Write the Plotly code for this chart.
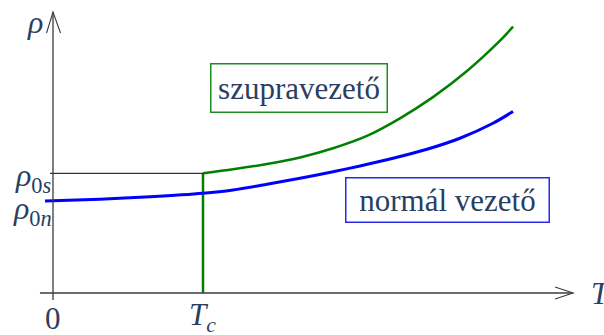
import plotly.graph_objects as go

# Temperature (in units of T_c) and resistivity (in units of rho_0n)
T_NORMAL = [-0.053, 0.313, 0.647, 1.000, 1.200, 1.427, 1.647, 1.867, 2.047,
            2.267, 2.493, 2.713, 2.933, 3.067]
RHO_NORMAL = [1.000, 1.020, 1.046, 1.084, 1.120, 1.182, 1.247, 1.318, 1.381,
              1.464, 1.562, 1.682, 1.845, 1.973]

T_SUPER = [1.000, 1.200, 1.427, 1.647, 1.867, 2.093, 2.313, 2.533, 2.760,
           2.980, 3.067]
RHO_SUPER = [1.301, 1.345, 1.402, 1.473, 1.573, 1.707, 1.898, 2.129, 2.413,
             2.743, 2.895]

TC = 1.0
RHO_0N = RHO_NORMAL[0]
RHO_0S = RHO_SUPER[0]

# axis extents
T_MIN, T_MAX = -0.087, 3.467
RHO_MIN, RHO_MAX = -0.076, 3.054

X_RANGE = [-0.3533, 3.6733]
Y_RANGE = [-0.4565, 3.1848]

AXIS_COLOR = "#3c3c3c"
GREEN = "#008000"
BLUE = "#0000ff"
SERIF = "Liberation Serif"

fig = go.Figure()

# superconducting branch: vertical drop at T_c
fig.add_trace(go.Scatter(x=[TC, TC], y=[0, RHO_0S], mode="lines",
                         line=dict(color=GREEN, width=2.5), hoverinfo="skip"))
fig.add_trace(go.Scatter(x=T_SUPER, y=RHO_SUPER, mode="lines",
                         line=dict(color=GREEN, width=2.5, shape="spline",
                                   smoothing=0.8),
                         hoverinfo="skip"))
fig.add_trace(go.Scatter(x=T_NORMAL, y=RHO_NORMAL, mode="lines",
                         line=dict(color=BLUE, width=3, shape="spline",
                                   smoothing=0.9),
                         hoverinfo="skip"))

# rho_0s guide
fig.add_shape(type="line", x0=-0.02, x1=TC, y0=RHO_0S, y1=RHO_0S,
              line=dict(color="black", width=1))
# axes
fig.add_shape(type="line", x0=T_MIN, x1=T_MAX, y0=0, y1=0,
              line=dict(color=AXIS_COLOR, width=1.3))
fig.add_shape(type="line", x0=0, x1=0, y0=RHO_MIN, y1=RHO_MAX,
              line=dict(color=AXIS_COLOR, width=1.3))
# open arrowheads
fig.add_shape(type="path",
              path=f"M {T_MAX-0.12},{0.065} L {T_MAX},0 L {T_MAX-0.12},{-0.065}",
              line=dict(color=AXIS_COLOR, width=1.1))
fig.add_shape(type="path",
              path=f"M {-0.043},{RHO_MAX-0.228} L 0,{RHO_MAX} L {0.05},{RHO_MAX-0.228}",
              line=dict(color=AXIS_COLOR, width=1.1))


def label(x, y, text, size=31, **kw):
    fig.add_annotation(x=x, y=y, text=text, showarrow=False,
                       font=dict(family=SERIF, size=size), **kw)


label(0, RHO_MAX, "<i>ρ</i>", 32, xanchor="right", yanchor="middle",
      xshift=-8, yshift=-10)
label(T_MAX, 0, "<i>T</i>", 31, xanchor="left", yanchor="middle",
      xshift=16)
label(0, 0, "0", 31, xanchor="center", yanchor="middle", yshift=-25)
label(TC, 0, "<i>T</i><sub><i>c</i></sub>", 31, xanchor="center",
      yanchor="middle", yshift=-24, xshift=-1)
label(0, RHO_0S, "<i>ρ</i><sub>0<i>s</i></sub>", 32, xanchor="right",
      yanchor="middle", xshift=1, yshift=-4)
label(0, RHO_0N, "<i>ρ</i><sub>0<i>n</i></sub>", 32, xanchor="right",
      yanchor="middle", xshift=1, yshift=-9)
label(1.643, 2.223, "szupravezető", 31, xanchor="center", yanchor="middle",
      width=173, height=45, bordercolor="#1e8c1e", borderwidth=1.5,
      borderpad=1, bgcolor="white")
label(2.627, 1.016, "normál vezető", 31, xanchor="center", yanchor="middle",
      width=200, height=41, bordercolor="#2828e6", borderwidth=1.5,
      borderpad=1, bgcolor="white")

fig.update_layout(
    width=604, height=335,
    margin=dict(l=0, r=0, t=0, b=0),
    paper_bgcolor="white", plot_bgcolor="white",
    showlegend=False,
    xaxis=dict(range=X_RANGE, visible=False, fixedrange=True),
    yaxis=dict(range=Y_RANGE, visible=False, fixedrange=True),
)

fig.write_html("out.html")
